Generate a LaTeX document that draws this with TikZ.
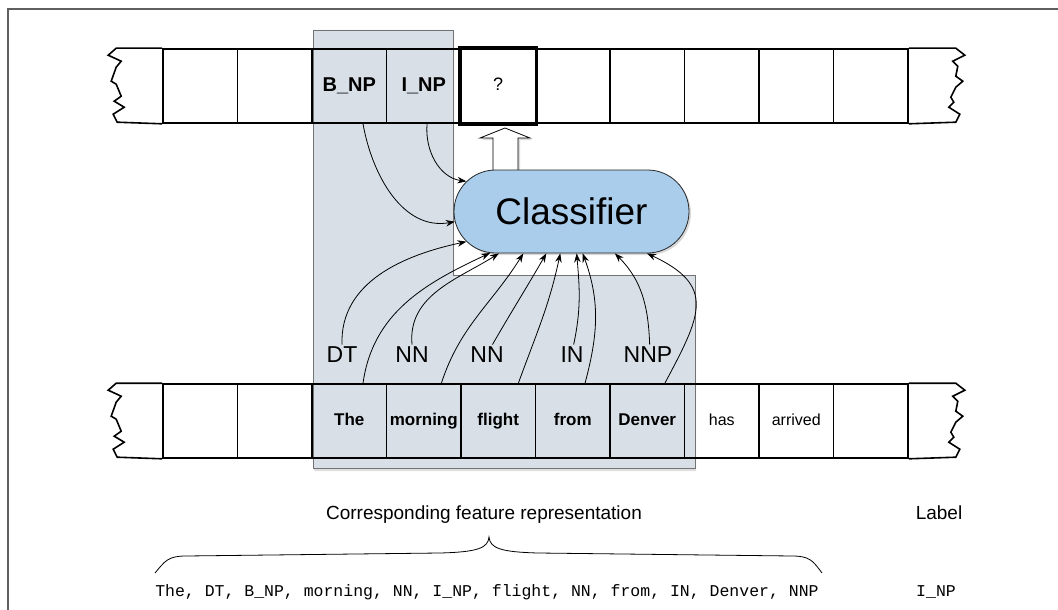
\documentclass[tikz,border=0pt]{standalone}
\usepackage{fontspec}
\setmainfont{Liberation Sans}
\setmonofont{Liberation Mono}
\usepackage{tikz}
\usetikzlibrary{positioning,arrows.meta,shapes.misc,shadows}

\definecolor{shadegray}{RGB}{216,223,231}
\definecolor{clfblue}{RGB}{170,205,235}
\definecolor{framegray}{RGB}{95,95,95}

\begin{document}
\begin{tikzpicture}[x=1pt,y=1pt,
  cellbox/.style={draw, line width=1.6pt, minimum width=74.5pt, minimum height=74pt, inner sep=0pt},
  tapeline/.style={line width=1.6pt},
  qbox/.style={draw, line width=3.5pt},
  boldword/.style={font=\fontsize{17}{20}\selectfont\bfseries, inner sep=0pt, text height=12.5pt, text depth=3.5pt},
  plainword/.style={font=\fontsize{16}{19}\selectfont, inner sep=0pt, text height=12pt, text depth=3.5pt},
  tagword/.style={font=\fontsize{20}{24}\selectfont\bfseries, inner sep=0pt, text height=14.5pt, text depth=3pt},
  postag/.style={font=\fontsize{23}{27}\selectfont, inner sep=1pt, text height=16.5pt, text depth=0pt},
  classifier/.style={rounded rectangle, draw=black!85, line width=0.8pt, fill=clfblue,
    minimum width=217pt, minimum height=83pt, inner xsep=-9pt,
    font=\fontsize{37}{44}\selectfont,
    drop shadow={opacity=0.3, shadow xshift=2pt, shadow yshift=-2pt}},
  window/.style={draw=black!55, line width=0.8pt, fill=shadegray,
    drop shadow={opacity=0.25, shadow xshift=1pt, shadow yshift=-3pt}},
  bigarrow/.style={draw, line width=0.8pt, fill=white,
    drop shadow={opacity=0.3, shadow xshift=2pt, shadow yshift=-2pt}},
  feed/.style={-{Stealth[length=9pt,width=6.5pt]}, line width=0.8pt},
  caption/.style={font=\fontsize{19}{23}\selectfont},
  codeline/.style={font=\ttfamily\fontsize{16.5}{20}\selectfont, inner sep=0pt},
  frameline/.style={draw=framegray, line width=1.2pt}
]
\useasboundingbox (0,0) rectangle (1058,-610);
\draw[frameline] (8,-610) -- (8,-9) -- (1058,-9);

\draw[window] (313,-30) -- (453,-30) -- (453,-275) -- (695,-275) -- (695,-468) -- (313,-468) -- cycle;

\foreach \i in {0,...,9} {
  \node[cellbox] (t\i) at ({200.25+74.5*\i},-86) {};
  \node[cellbox] (b\i) at ({200.25+74.5*\i},-421) {};
}
\foreach \tp in {t,b} {
  \draw[tapeline] (\tp0.north west) -- ++(-46,0) -- ++(-8,-7) -- ++(13,-6) -- ++(-5,-6) -- ++(-5,-14)
    -- ++(5,-3) -- ++(5,-12) -- ++(-7,-5) -- ++(10,-6) -- ++(-11,-7) -- ++(4,-8) -- (\tp0.south west);
  \draw[tapeline] (\tp9.north east) -- ++(47,0) -- ++(9,-7) -- ++(-12,-6) -- ++(5,-5) -- ++(-2,-10)
    -- ++(7,-5) -- ++(-7,-6) -- ++(-5,-10) -- ++(3,-5) -- ++(-5,-5) -- ++(11,-7) -- ++(-4,-8) -- (\tp9.south east);
}
\draw[qbox] (t4.south west) rectangle (t4.north east);

\node[tagword] (tw2) at (t2) {B\_NP};
\node[tagword] (tw3) at (t3) {I\_NP};
\node[plainword, font=\fontsize{18}{21}\selectfont] (tw4) at (t4) {?};
\foreach \i/\w in {2/The,3/morning,4/flight,5/from,6/Denver}
  \node[boldword] (bw\i) at (b\i) {\w};
\foreach \i/\w in {7/has,8/arrived}
  \node[plainword] (bw\i) at (b\i) {\w};

\draw[bigarrow] (493,-176) -- (493,-138) -- (480,-138) -- (505,-128) -- (530,-138) -- (518,-138) -- (518,-176) -- cycle;
\node[classifier] (clf) at (571.5,-211.5) {Classifier};

\node[postag] (pos1) at (342,-354) {DT};
\node[postag] (pos2) at (412,-354) {NN};
\node[postag] (pos3) at (487,-354) {NN};
\node[postag] (pos4) at (572,-354) {IN};
\node[postag] (pos5) at (648,-354) {NNP};

\draw[feed] (t2.-70) to[out=-80,in=190] (clf.185);
\draw[feed] (t3.-85) to[out=-95,in=172] (clf.164);
\draw[feed] (pos1.north) to[out=92,in=192] (clf.196);
\draw[feed] (b2.70) to[out=82,in=205] (clf.207);
\draw[feed] (pos2.north) to[out=95,in=212] (clf.210);
\draw[feed] (b3.65) to[out=72,in=238] (clf.221);
\draw[feed] (pos3.60) to[out=60,in=240] (clf.239);
\draw[feed] (b4.62) to[out=70,in=258] (clf.255);
\draw[feed] (pos4.80) to[out=78,in=275] (clf.277);
\draw[feed] (b5.72) to[out=75,in=290] (clf.285);
\draw[feed] (pos5.80) to[out=92,in=315] (clf.316);
\draw[feed] (b6.65) to[out=62,in=-25,looseness=1.5] (clf.331);

\node[caption] (featcap) at (484,-515) {Corresponding feature representation};
\node[caption] (labcap) at (939,-513) {Label};
\node[codeline] (feats) at (487,-592) {The, DT, B\_NP, morning, NN, I\_NP, flight, NN, from, IN, Denver, NNP};
\node[codeline] (labval) at (936,-592) {I\_NP};
\draw[line width=0.8pt] (155,-573) .. controls (165,-561) and (168,-556) .. (186,-556) -- (440,-553)
  .. controls (478,-552) and (488,-548) .. (489,-537) .. controls (490,-548) and (500,-552) .. (538,-553)
  -- (792,-556) .. controls (810,-556) and (813,-561) .. (822,-573);
\end{tikzpicture}
\end{document}
